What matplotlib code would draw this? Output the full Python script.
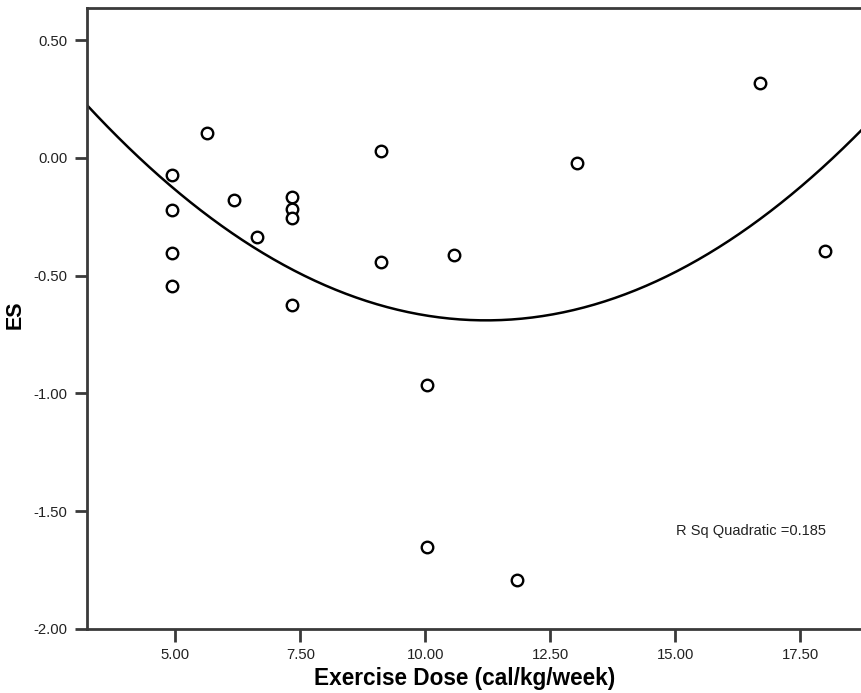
import numpy as np
import matplotlib
matplotlib.use("Agg")
import matplotlib.pyplot as plt

plt.rcParams['font.family'] = ['Liberation Sans', 'DejaVu Sans']

# Data
exercise_dose = [5.64, 4.93, 4.93, 4.93, 4.93, 6.18, 6.64, 7.34, 7.34, 7.34, 7.34,
                 9.12, 9.12, 13.04, 10.57, 10.04, 10.04, 11.84, 16.69, 17.99]
effect_size = [0.106, -0.074, -0.222, -0.406, -0.545, -0.177, -0.335, -0.166, -0.219,
               -0.255, -0.623, 0.028, -0.443, -0.021, -0.412, -0.965, -1.653, -1.793,
               0.318, -0.396]
x_ticks = [5.0, 7.5, 10.0, 12.5, 15.0, 17.5]
y_ticks = [0.5, 0.0, -0.5, -1.0, -1.5, -2.0]
r_sq_label = "R Sq Quadratic =0.185"

W, H = 861, 693
fig = plt.figure(figsize=(W / 100, H / 100), dpi=100)
ax = fig.add_axes([87 / W, (H - 629) / H, (W - 87) / W, (629 - 8) / H])

xlim = (3.23, 18.71)
ylim = (-2.0, 0.636)

# Quadratic fit
coef = np.polyfit(exercise_dose, effect_size, 2)
xs = np.linspace(xlim[0], xlim[1], 300)
ax.plot(xs, np.polyval(coef, xs), color='black', lw=1.8, zorder=2)

ax.plot(exercise_dose, effect_size, linestyle='none', marker='o', markersize=8.3,
        markerfacecolor='white', markeredgecolor='black', markeredgewidth=1.7, zorder=3)

ax.set_xlim(*xlim)
ax.set_ylim(*ylim)
ax.set_xticks(x_ticks)
ax.set_xticklabels([f"{v:.2f}" for v in x_ticks])
ax.set_yticks(y_ticks)
ax.set_yticklabels([f"{v:.2f}" for v in y_ticks])

spine_color = '#3a3a3a'
for s in ['left', 'bottom', 'top']:
    ax.spines[s].set_color(spine_color)
    ax.spines[s].set_linewidth(2.0)
ax.spines['right'].set_visible(False)
ax.tick_params(axis='both', direction='out', length=9, width=2, color=spine_color,
               labelsize=10.7, labelcolor='#222222', pad=5)

ax.set_xlabel("Exercise Dose (cal/kg/week)", fontsize=16.3, fontweight='bold')
ax.set_ylabel("ES", fontsize=15.5, fontweight='bold')
ax.xaxis.set_label_coords((465 - 87) / (W - 87), -(678 - 629) / (629 - 8), transform=ax.transAxes)
ax.yaxis.set_label_coords(-(87 - 15) / (W - 87), (629 - 315) / (629 - 8), transform=ax.transAxes)
ax.xaxis.label.set_va('center')
ax.yaxis.label.set_va('center')

ax.text(15.01, -1.586, r_sq_label, fontsize=10.5, ha='left', va='center', color='#222222')

fig.savefig("out.png", dpi=100)
